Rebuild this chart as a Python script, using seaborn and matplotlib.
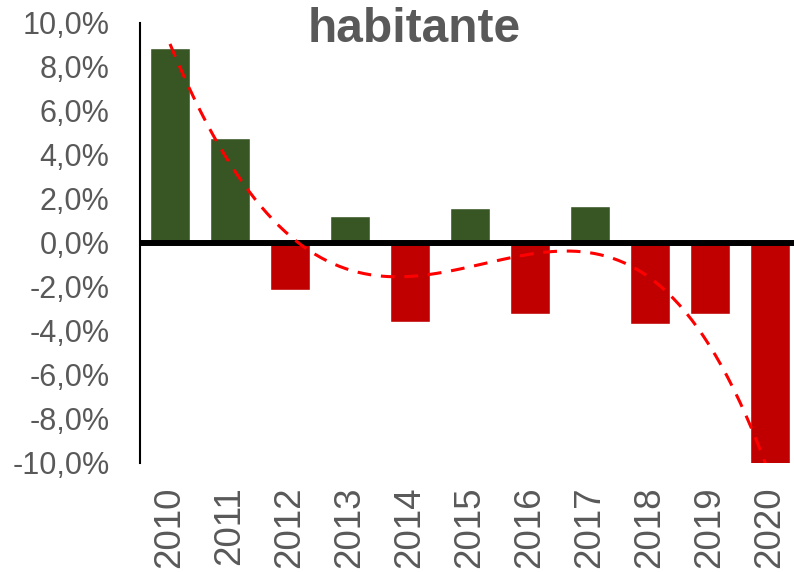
import numpy as np
import pandas as pd
import matplotlib
matplotlib.use("Agg")
import matplotlib.pyplot as plt
from matplotlib.ticker import FuncFormatter
import seaborn as sns

years = ["2010", "2011", "2012", "2013", "2014", "2015", "2016", "2017", "2018", "2019", "2020"]
values = [8.85, 4.78, -2.14, 1.23, -3.58, 1.59, -3.21, 1.68, -3.67, -3.21, -11.0]
yticks = [-10, -8, -6, -4, -2, 0, 2, 4, 6, 8, 10]
title = "habitante"

sns.set_theme(style="white")
plt.rcParams["font.family"] = ["Liberation Sans", "DejaVu Sans"]

df = pd.DataFrame({"year": years, "value": values})
df["sign"] = np.where(df["value"] >= 0, "pos", "neg")
df["pos"] = np.arange(len(df))

fig = plt.figure(figsize=(7.94, 5.72), dpi=100)
ax = fig.add_axes([140 / 794, 109 / 572, 660 / 794, 440 / 572])

sns.barplot(data=df, x="year", y="value", hue="sign",
            palette={"pos": "#375623", "neg": "#C00000"},
            dodge=False, width=0.667, legend=False, ax=ax, saturation=1)

sns.regplot(data=df, x="pos", y="value", order=4, scatter=False, ci=None,
            truncate=True, ax=ax,
            line_kws=dict(color="#FF0000", lw=2.2, ls=(0, (4.5, 3.2)), zorder=6))

ax.axhline(0, color="black", lw=4.3, zorder=5)

ax.set_xlim(-0.5, 10.5)
ax.set_ylim(-10, 10)
ax.set_yticks(yticks)
ax.yaxis.set_major_formatter(FuncFormatter(lambda v, p: f"{v:.1f}".replace(".", ",") + "%"))

for s in ["top", "right", "bottom"]:
    ax.spines[s].set_visible(False)
ax.spines["left"].set_color("black")
ax.spines["left"].set_linewidth(1.5)

ax.tick_params(axis="y", length=0, pad=22, labelsize=22, labelcolor="#595959")
ax.tick_params(axis="x", length=0, pad=17, labelsize=26.5, labelcolor="#595959",
               labelrotation=90)
ax.set_xlabel("")
ax.set_ylabel("")

fig.text(414 / 794, 1 - 30 / 572, title, ha="center", va="center",
         fontsize=34.5, fontweight="bold", color="#595959")

fig.savefig("out.png", dpi=100)
